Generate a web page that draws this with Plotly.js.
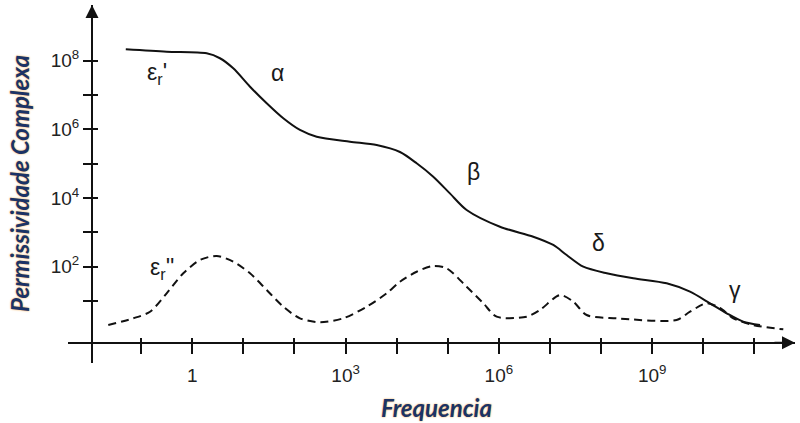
<!DOCTYPE html>
<html>
<head>
<meta charset="utf-8">
<script src="https://cdn.plot.ly/plotly-3.0.1.min.js"></script>
<style>html,body{margin:0;padding:0;background:#fff;}#chart{width:800px;height:423px;}</style>
</head>
<body>
<div id="chart"></div>
<script>
const realFreq = [0.05, 0.315, 1.91, 3.48, 6.34, 13.5, 28.6, 60.4, 128, 272, 1220, 4060, 11600, 24600, 52000, 110000, 234000, 1.05e6, 4.71e6, 1.16e7, 2.12e7, 4.49e7, 1.29e8, 4.27e8, 1.92e9, 5.5e9, 1.35e10, 2.87e10, 6.07e10, 1.29e11];
const realPerm = [2.15e8, 1.83e8, 1.64e8, 1.18e8, 6.0e7, 1.75e7, 5.75e6, 2.10e6, 9.6e5, 6.1e5, 4.38e5, 3.5e5, 2.19e5, 1.03e5, 4.19e4, 1.37e4, 4490, 1460, 748, 429, 219, 100, 64.3, 45.9, 32.8, 18.7, 8.6, 4.4, 2.5, 2.0];

// Imaginary part (epsilon_r'')
const imagFreq = [0.0227, 0.070, 0.149, 0.315, 0.667, 1.42, 3.0, 6.34, 13.5, 28.6, 60.4, 128, 316, 902, 2590, 6370, 11600, 24600, 52000, 95100, 234000, 496000, 906000, 3.5e6, 6.37e6, 1.57e7, 2.86e7, 5.22e7, 2.02e8, 3.01e9, 5.5e9, 1.17e10, 2.12e10, 3.87e10, 9.5e10, 3.68e11];
const imagPerm = [2.0, 3.14, 4.89, 16.8, 64.3, 157, 205, 140, 64.3, 20.9, 6.84, 3.14, 2.4, 3.14, 6.84, 16.8, 36.6, 71.4, 105, 89.8, 26.1, 8.6, 3.5, 3.5, 5.48, 15, 9.55, 3.92, 3.14, 2.8, 4.89, 8.6, 6.27, 3.14, 2.0, 1.5];

// Tick marks (every decade) and labelled ticks
const xAllTicks = [0.1, 1, 10, 100, 1e3, 1e4, 1e5, 1e6, 1e7, 1e8, 1e9, 1e10, 1e11];
const xLabelVals = [1, 1e3, 1e6, 1e9];
const xLabelText = ['1', '10<sup>3</sup>', '10<sup>6</sup>', '10<sup>9</sup>'];
const yAllTicks = [10, 100, 1e3, 1e4, 1e5, 1e6, 1e7, 1e8];
const yLabelVals = [100, 1e4, 1e6, 1e8];
const yLabelText = ['10<sup>2</sup>', '10<sup>4</sup>', '10<sup>6</sup>', '10<sup>8</sup>'];

// Curve labels: [text, log10 frequency, log10 permittivity]
const curveLabels = [
  ['ε<sub>r</sub>\'', -0.69, 7.64],
  ['α', 1.66, 7.64],
  ['β', 5.51, 4.76],
  ['δ', 7.94, 2.69],
  ['γ', 10.62, 1.32],
  ['ε<sub>r</sub>\'\'', -0.59, 1.96]
];

const xRange = [-2.432, 11.795];
const yRange = [-0.805, 9.623];
const yAxisPos = 0.033;
const xAxisPos = 0.0567;
const ink = '#111111';

const traces = [
  {x: realFreq, y: realPerm, type: 'scatter', mode: 'lines', xaxis: 'x', yaxis: 'y',
   line: {color: ink, width: 2, shape: 'spline', smoothing: 0.8}, hoverinfo: 'skip'},
  {x: imagFreq, y: imagPerm, type: 'scatter', mode: 'lines', xaxis: 'x2', yaxis: 'y2',
   line: {color: ink, width: 2, dash: '8px,5px', shape: 'spline', smoothing: 0.8}, hoverinfo: 'skip'}
];

const tickFont = {family: 'Liberation Sans, Arial, sans-serif', size: 19, color: '#222'};
const greekFont = {family: 'Liberation Sans, Arial, sans-serif', size: 23, color: '#1a1a1a'};
const titleFont = {family: 'Lato, sans-serif', size: 24, color: '#1b3366', weight: 'bold', style: 'italic', shadow: '0 0 2px #f0a540'};

const annotations = curveLabels.map(function(l) {
  return {text: l[0], x: l[1], y: l[2], xref: 'x', yref: 'y', showarrow: false, font: greekFont};
});
annotations.push({text: 'Permissividade Complexa', xref: 'paper', yref: 'paper',
  x: (19 - 68) / 727, y: (363 - 184) / 358, xanchor: 'center', yanchor: 'middle',
  textangle: -90, showarrow: false, font: titleFont});
annotations.push({text: 'Frequencia', xref: 'paper', yref: 'paper',
  x: (436 - 68) / 727, y: (363 - 407) / 358, xanchor: 'center', yanchor: 'middle',
  showarrow: false, font: titleFont});
annotations.push({text: '', xref: 'paper', yref: 'paper', x: yAxisPos, y: 1, ax: 0, ay: 22,
  showarrow: true, arrowhead: 2, arrowsize: 1.3, arrowwidth: 2, arrowcolor: ink});
annotations.push({text: '', xref: 'paper', yref: 'paper', x: 1, y: xAxisPos, ax: -22, ay: 0,
  showarrow: true, arrowhead: 2, arrowsize: 1.3, arrowwidth: 2, arrowcolor: ink});

const layout = {
  width: 800, height: 423,
  margin: {l: 68, r: 5, t: 5, b: 60},
  paper_bgcolor: '#fff', plot_bgcolor: '#fff',
  showlegend: false,
  xaxis: {type: 'log', range: xRange, anchor: 'free', position: xAxisPos,
    showline: true, linecolor: ink, linewidth: 2, showgrid: false, zeroline: false,
    ticks: 'outside', ticklen: 10, tickwidth: 2, tickcolor: ink,
    tickmode: 'array', tickvals: xLabelVals, ticktext: xLabelText, tickfont: tickFont,
    minor: {tickmode: 'array', tickvals: xAllTicks, ticks: 'outside', ticklen: 10, tickwidth: 2, tickcolor: ink, showgrid: false},
    ticklabelstandoff: 5, fixedrange: true},
  yaxis: {type: 'log', range: yRange, anchor: 'free', position: yAxisPos,
    showline: true, linecolor: ink, linewidth: 2, showgrid: false, zeroline: false,
    ticks: 'outside', ticklen: 8, tickwidth: 2, tickcolor: ink,
    tickmode: 'array', tickvals: yLabelVals, ticktext: yLabelText, tickfont: tickFont,
    minor: {tickmode: 'array', tickvals: yAllTicks, ticks: 'outside', ticklen: 8, tickwidth: 2, tickcolor: ink, showgrid: false},
    fixedrange: true},
  xaxis2: {type: 'log', range: xRange, overlaying: 'x', anchor: 'free', position: xAxisPos,
    showline: false, showgrid: false, zeroline: false, showticklabels: false,
    ticks: 'inside', ticklen: 5, tickwidth: 2, tickcolor: ink,
    tickmode: 'array', tickvals: xAllTicks, fixedrange: true},
  yaxis2: {type: 'log', range: yRange, overlaying: 'y', anchor: 'free', position: yAxisPos,
    showline: false, showgrid: false, zeroline: false, showticklabels: false,
    ticks: 'inside', ticklen: 5, tickwidth: 2, tickcolor: ink,
    tickmode: 'array', tickvals: yAllTicks, fixedrange: true},
  annotations: annotations
};

Plotly.newPlot('chart', traces, layout, {displayModeBar: false, staticPlot: true});
</script>
</body>
</html>
